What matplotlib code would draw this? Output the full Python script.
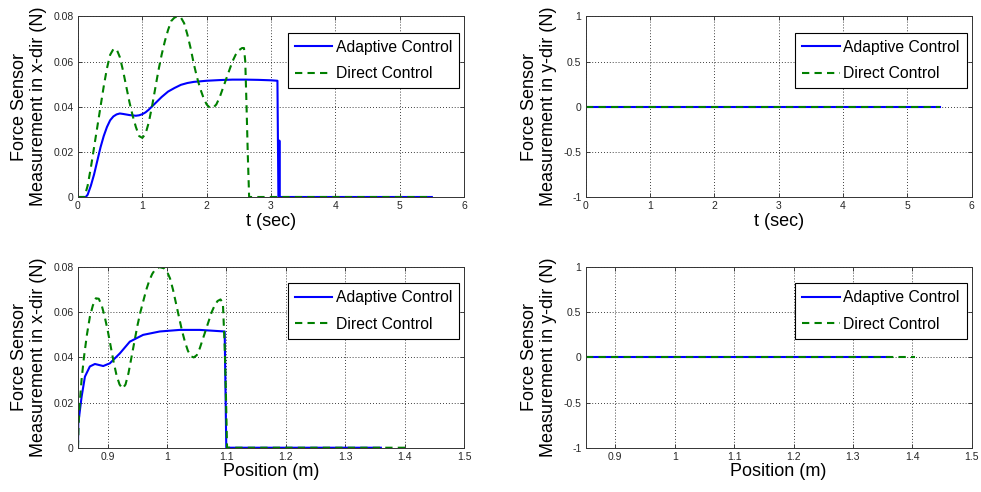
#!/usr/bin/env python3

import matplotlib
matplotlib.use('Agg')
import matplotlib.pyplot as plt

# force in x-direction against time
t_adaptive = [0.0, 0.12, 0.15, 0.20, 0.25, 0.30, 0.35, 0.40, 0.45, 0.50, 0.55,
              0.60, 0.65, 0.70, 0.80, 0.90, 0.95, 1.00, 1.05, 1.10, 1.20, 1.30,
              1.40, 1.50, 1.60, 1.70, 1.80, 2.00, 2.20, 2.40, 2.60, 2.80, 3.00,
              3.10, 3.115, 3.125, 3.13, 3.135, 5.5]
fx_adaptive = [0.0, 0.0, 0.001, 0.005, 0.010, 0.016, 0.022, 0.027, 0.031, 0.034, 0.0357,
               0.0366, 0.037, 0.0368, 0.0363, 0.036, 0.0362, 0.0367, 0.0375, 0.0387, 0.0415, 0.0443,
               0.0467, 0.0483, 0.0497, 0.0505, 0.051, 0.0515, 0.0518, 0.052, 0.052, 0.0519, 0.0517,
               0.0515, 0.0, 0.0, 0.025, 0.0, 0.0]

t_direct = [0.0, 0.10, 0.15, 0.20, 0.25, 0.30, 0.35, 0.40, 0.45, 0.50, 0.55, 0.60,
            0.65, 0.70, 0.75, 0.80, 0.85, 0.90, 0.95, 1.00, 1.05, 1.10, 1.15, 1.20,
            1.25, 1.30, 1.35, 1.40, 1.45, 1.50, 1.55, 1.60, 1.65, 1.70, 1.75, 1.80,
            1.85, 1.90, 1.95, 2.00, 2.05, 2.10, 2.15, 2.20, 2.25, 2.30, 2.35, 2.40,
            2.45, 2.50, 2.55, 2.58, 2.60, 2.62, 2.64, 2.66, 5.5]
fx_direct = [0.0, 0.0, 0.005, 0.013, 0.022, 0.031, 0.040, 0.049, 0.057, 0.063, 0.0655, 0.0655,
             0.062, 0.056, 0.049, 0.042, 0.036, 0.031, 0.027, 0.0262, 0.028, 0.033, 0.040, 0.048,
             0.056, 0.063, 0.069, 0.074, 0.078, 0.0795, 0.080, 0.0795, 0.077, 0.072, 0.066, 0.059,
             0.053, 0.048, 0.044, 0.041, 0.0395, 0.0395, 0.041, 0.044, 0.048, 0.052, 0.056, 0.060,
             0.063, 0.065, 0.066, 0.066, 0.060, 0.040, 0.018, 0.0, 0.0]

# force in x-direction against position
p_adaptive = [0.85, 0.8505, 0.8561, 0.8617, 0.870, 0.8785, 0.8925, 0.9037, 0.9205,
              0.9373, 0.9597, 0.9877, 1.0213, 1.055, 1.097, 1.0997, 1.36]
px_adaptive = [0.0, 0.0108, 0.0226, 0.0315, 0.036, 0.0371, 0.0362, 0.0374, 0.0418,
               0.047, 0.050, 0.0515, 0.0522, 0.0522, 0.0515, 0.0, 0.0]

p_direct = [0.850, 0.851, 0.853, 0.856, 0.860, 0.865, 0.870, 0.875, 0.880, 0.885,
            0.890, 0.895, 0.900, 0.905, 0.910, 0.915, 0.920, 0.925, 0.930, 0.935,
            0.940, 0.945, 0.950, 0.955, 0.960, 0.965, 0.970, 0.975, 0.980, 0.987,
            0.995, 1.000, 1.005, 1.010, 1.015, 1.020, 1.025, 1.030, 1.035, 1.040,
            1.045, 1.050, 1.055, 1.060, 1.065, 1.070, 1.075, 1.080, 1.085, 1.090,
            1.094, 1.097, 1.099, 1.101, 1.405]
px_direct = [0.0, 0.010, 0.020, 0.030, 0.040, 0.050, 0.058, 0.063, 0.0662, 0.066,
             0.063, 0.058, 0.052, 0.045, 0.038, 0.032, 0.028, 0.0262, 0.028, 0.033,
             0.040, 0.047, 0.054, 0.060, 0.065, 0.070, 0.074, 0.077, 0.079, 0.080,
             0.0795, 0.078, 0.075, 0.070, 0.064, 0.058, 0.052, 0.047, 0.043, 0.0405,
             0.040, 0.041, 0.044, 0.048, 0.052, 0.056, 0.060, 0.063, 0.065, 0.0657,
             0.064, 0.045, 0.025, 0.0, 0.0]

# force in y-direction (stays at zero)
t_end = [0.0, 5.5]
fy_zero = [0.0, 0.0]
p_end_adaptive = [0.85, 1.36]
p_end_direct = [0.85, 1.405]

plt.rcParams['font.family'] = ['Liberation Sans', 'DejaVu Sans']

BLUE = (0, 0, 1)
GREEN = (0, 0.5, 0)

fig = plt.figure(figsize=(9.81, 4.92), dpi=100)


def style_axes(ax, xlim, xticks, xticklabels, ylim, yticks, yticklabels, xlabel, ylabel):
    ax.set_xlim(*xlim)
    ax.set_ylim(*ylim)
    ax.set_xticks(xticks)
    ax.set_xticklabels(xticklabels)
    ax.set_yticks(yticks)
    ax.set_yticklabels(yticklabels)
    ax.tick_params(direction='in', length=3, width=0.6, labelsize=7.5, top=True, right=True,
                   pad=3, colors='0.15')
    for s in ax.spines.values():
        s.set_linewidth(0.7)
        s.set_color('0.2')
    ax.grid(True, color='k', linestyle=(0, (1, 2.5)), linewidth=0.6)
    ax.set_xlabel(xlabel, fontsize=13, labelpad=1)
    ax.set_ylabel(ylabel, fontsize=13, labelpad=5, linespacing=1.15)
    leg = ax.legend(loc='upper right', bbox_to_anchor=(0.987, 0.91), fontsize=11.3,
                    fancybox=False, framealpha=1, edgecolor='k', handlelength=2.4,
                    handletextpad=0.2, labelspacing=0.72, borderpad=0.45, borderaxespad=0)
    leg.get_frame().set_linewidth(0.8)


def draw(ax, xa, ya, xd, yd):
    ax.plot(xa, ya, color=BLUE, lw=1.5, label='Adaptive Control')
    ax.plot(xd, yd, color=GREEN, lw=1.5, dashes=(3.5, 2.5), label='Direct Control')


left_x, right_x, width = 0.0795, 0.597, 0.3935
top_y, bottom_y, height = 0.5996, 0.0900, 0.367

x_force_ticks = [0, 0.02, 0.04, 0.06, 0.08]
x_force_labels = ['0', '0.02', '0.04', '0.06', '0.08']
y_force_ticks = [-1, -0.5, 0, 0.5, 1]
y_force_labels = ['-1', '-0.5', '0', '0.5', '1']
time_ticks = [0, 1, 2, 3, 4, 5, 6]
time_labels = ['0', '1', '2', '3', '4', '5', '6']
pos_ticks = [0.9, 1.0, 1.1, 1.2, 1.3, 1.4, 1.5]
pos_labels = ['0.9', '1', '1.1', '1.2', '1.3', '1.4', '1.5']

ylabel_x = 'Force Sensor\nMeasurement in x-dir (N)'
ylabel_y = 'Force Sensor\nMeasurement in y-dir (N)'

ax1 = fig.add_axes([left_x, top_y, width, height])
draw(ax1, t_adaptive, fx_adaptive, t_direct, fx_direct)
style_axes(ax1, (0, 6), time_ticks, time_labels, (0, 0.08), x_force_ticks, x_force_labels,
           't (sec)', ylabel_x)

ax2 = fig.add_axes([right_x, top_y, width, height])
draw(ax2, t_end, fy_zero, t_end, fy_zero)
style_axes(ax2, (0, 6), time_ticks, time_labels, (-1, 1), y_force_ticks, y_force_labels,
           't (sec)', ylabel_y)

ax3 = fig.add_axes([left_x, bottom_y, width, height])
draw(ax3, p_adaptive, px_adaptive, p_direct, px_direct)
style_axes(ax3, (0.85, 1.5), pos_ticks, pos_labels, (0, 0.08), x_force_ticks, x_force_labels,
           'Position (m)', ylabel_x)

ax4 = fig.add_axes([right_x, bottom_y, width, height])
draw(ax4, p_end_adaptive, fy_zero, p_end_direct, fy_zero)
style_axes(ax4, (0.85, 1.5), pos_ticks, pos_labels, (-1, 1), y_force_ticks, y_force_labels,
           'Position (m)', ylabel_y)

fig.savefig('out.png', dpi=100)
